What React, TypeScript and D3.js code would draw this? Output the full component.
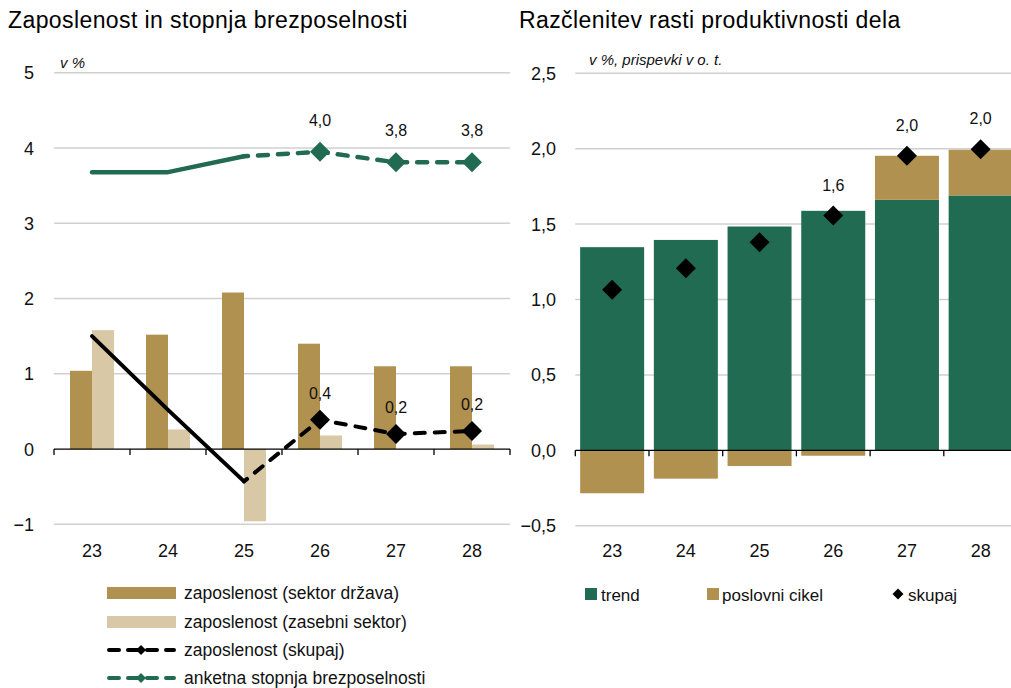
import React from "react";
import * as d3 from "d3";

const categories = ["23", "24", "25", "26", "27", "28"];
const empGov = [1.04, 1.52, 2.08, 1.4, 1.1, 1.1];
const empPriv = [1.58, 0.26, -0.96, 0.18, 0.0, 0.06];
const empTotal = [1.5, 0.52, -0.43, 0.39, 0.2, 0.24];
const empTotalLabels = ["", "", "", "0,4", "0,2", "0,2"];
const unemp = [3.68, 3.68, 3.89, 3.95, 3.81, 3.81];
const unempLabels = ["", "", "", "4,0", "3,8", "3,8"];
const leftTicks = [-1, 0, 1, 2, 3, 4, 5];

const trend = [1.347, 1.395, 1.484, 1.588, 1.661, 1.69];
const cycle = [-0.285, -0.188, -0.104, -0.036, 0.292, 0.303];
const prodTotal = [1.064, 1.208, 1.38, 1.557, 1.953, 1.997];
const prodLabels = ["", "", "", "1,6", "2,0", "2,0"];
const rightTicks = [-0.5, 0, 0.5, 1.0, 1.5, 2.0, 2.5];

const GOLD = "#b0914f";
const BEIGE = "#d8c8a5";
const GREEN = "#206b52";
const GRID = "#d0d0d0";
const FONT = "'Liberation Sans', Arial, sans-serif";

const fmt = (v: number) => d3.format(".1f")(v).replace(".", ",").replace("-", "\u2212");

function diamond(cx: number, cy: number, r: number) {
  return `M${cx},${cy - r}L${cx + r},${cy}L${cx},${cy + r}L${cx - r},${cy}Z`;
}

export default function App() {
  // left chart
  const xl = d3.scaleBand<string>().domain(categories).range([54, 510]).padding(0);
  const yl = d3.scaleLinear().domain([-1, 5]).range([524.3, 72.8]);
  const bw = 22;
  const cxL = (c: string) => (xl(c) as number) + xl.bandwidth() / 2;

  const solidIdx = [0, 1, 2];
  const dashIdx = [2, 3, 4, 5];
  const seg = (arr: number[], idx: number[]) =>
    d3
      .line<number>()
      .x((i) => cxL(categories[i]))
      .y((i) => yl(arr[i]))(idx) as string;

  // right chart
  const step = 73.7;
  const xr = d3
    .scaleBand<string>()
    .domain(categories)
    .range([575.3, 575.3 + step * categories.length])
    .padding(0);
  const yr = d3.scaleLinear().domain([-0.5, 2.5]).range([525.7, 73.3]);
  const rbw = 64;
  const cxR = (c: string) => (xr(c) as number) + xr.bandwidth() / 2;

  return (
    <svg
      width={1011}
      height={688}
      style={{ position: "absolute", left: 0, top: 0, background: "#fff" }}
      fontFamily={FONT}
    >
      <rect width={1011} height={688} fill="#fff" />
      {/* Titles */}
      <text x={8} y={28} fontSize={23} letterSpacing={0.4} fill="#000">
        Zaposlenost in stopnja brezposelnosti
      </text>
      <text x={519} y={28} fontSize={23} letterSpacing={0.4} fill="#000">
        Razčlenitev rasti produktivnosti dela
      </text>

      {/* LEFT CHART */}
      <g>
        {leftTicks
          .filter((t) => t !== 0)
          .map((t) => (
            <line key={t} x1={54} x2={510} y1={yl(t)} y2={yl(t)} stroke={GRID} strokeWidth={1.5} />
          ))}
        {leftTicks.map((t) => (
          <text key={t} x={34} y={yl(t)} dy="0.36em" textAnchor="end" fontSize={18} fill="#111">
            {fmt(t).replace(",0", "")}
          </text>
        ))}
        <text x={60} y={68} fontSize={15} fontStyle="italic" fill="#111">
          v %
        </text>
        {categories.map((c, i) => (
          <g key={c}>
            <rect
              x={cxL(c) - bw}
              width={bw}
              y={yl(Math.max(0, empGov[i]))}
              height={Math.abs(yl(empGov[i]) - yl(0))}
              fill={GOLD}
            />
            <rect
              x={cxL(c)}
              width={bw}
              y={yl(Math.max(0, empPriv[i]))}
              height={Math.abs(yl(empPriv[i]) - yl(0))}
              fill={BEIGE}
            />
          </g>
        ))}
        {/* axis */}
        <line x1={54} x2={510} y1={yl(0)} y2={yl(0)} stroke="#000" strokeWidth={1.3} />
        {[...categories.map((c) => xl(c) as number), 510].map((x, i) => (
          <line key={i} x1={x} x2={x} y1={yl(0)} y2={yl(0) + 6} stroke="#000" strokeWidth={1.3} />
        ))}
        {categories.map((c) => (
          <text key={c} x={cxL(c)} y={557} textAnchor="middle" fontSize={18} fill="#111">
            {c}
          </text>
        ))}
        {/* unemployment line */}
        <path d={seg(unemp, solidIdx)} fill="none" stroke={GREEN} strokeWidth={4.5} strokeLinecap="round" strokeLinejoin="round" />
        <path
          d={seg(unemp, dashIdx)}
          fill="none"
          stroke={GREEN}
          strokeWidth={4.5}
          strokeLinecap="round"
          strokeDasharray="10 10"
          strokeDashoffset={-14}
        />
        {categories.map((c, i) =>
          unempLabels[i] ? (
            <g key={c}>
              <path d={diamond(cxL(c), yl(unemp[i]), 10)} fill={GREEN} />
              <text x={cxL(c)} y={yl(unemp[i]) - 26} textAnchor="middle" fontSize={16} fill="#111">
                {unempLabels[i]}
              </text>
            </g>
          ) : null
        )}
        {/* employment total line */}
        <path d={seg(empTotal, solidIdx)} fill="none" stroke="#000" strokeWidth={4} strokeLinecap="round" strokeLinejoin="round" />
        <path
          d={seg(empTotal, dashIdx)}
          fill="none"
          stroke="#000"
          strokeWidth={4}
          strokeLinecap="round"
          strokeDasharray="10 10"
          strokeDashoffset={-14}
        />
        {categories.map((c, i) =>
          empTotalLabels[i] ? (
            <g key={c}>
              <path d={diamond(cxL(c), yl(empTotal[i]), 10)} fill="#000" />
              <text x={cxL(c)} y={yl(empTotal[i]) - 21} textAnchor="middle" fontSize={16} fill="#111">
                {empTotalLabels[i]}
              </text>
            </g>
          ) : null
        )}
        {/* legend */}
        <g fontSize={17.5} fill="#111">
          <rect x={107} y={587} width={69} height={12} fill={GOLD} />
          <text x={184} y={599}>zaposlenost (sektor država)</text>
          <rect x={107} y={616} width={69} height={12} fill={BEIGE} />
          <text x={184} y={628}>zaposlenost (zasebni sektor)</text>
          <line x1={109} x2={174} y1={650} y2={650} stroke="#000" strokeWidth={4} strokeLinecap="round" strokeDasharray="10 9" />
          <path d={diamond(141, 650, 5)} fill="#000" />
          <text x={184} y={656}>zaposlenost (skupaj)</text>
          <line x1={109} x2={174} y1={678} y2={678} stroke={GREEN} strokeWidth={4} strokeLinecap="round" strokeDasharray="10 9" />
          <path d={diamond(141, 678, 5)} fill={GREEN} />
          <text x={184} y={684}>anketna stopnja brezposelnosti</text>
        </g>
      </g>

      {/* RIGHT CHART */}
      <g>
        {rightTicks
          .filter((t) => t !== 0)
          .map((t) => (
            <line key={t} x1={575.3} x2={1011} y1={yr(t)} y2={yr(t)} stroke={GRID} strokeWidth={1.5} />
          ))}
        {rightTicks.map((t) => (
          <text key={t} x={556} y={yr(t)} dy="0.36em" textAnchor="end" fontSize={18} fill="#111">
            {fmt(t)}
          </text>
        ))}
        <text x={589} y={65} fontSize={15} fontStyle="italic" fill="#111">
          v %, prispevki v o. t.
        </text>
        {categories.map((c, i) => (
          <g key={c}>
            <rect
              x={cxR(c) - rbw / 2}
              width={rbw}
              y={yr(trend[i])}
              height={yr(0) - yr(trend[i])}
              fill={GREEN}
            />
            <rect
              x={cxR(c) - rbw / 2}
              width={rbw}
              y={cycle[i] >= 0 ? yr(trend[i] + cycle[i]) : yr(0)}
              height={Math.abs(yr(cycle[i]) - yr(0))}
              fill={GOLD}
            />
          </g>
        ))}
        <line x1={575.3} x2={1011} y1={yr(0)} y2={yr(0)} stroke="#000" strokeWidth={1.3} />
        {categories.map((c) => (
          <line
            key={c}
            x1={xr(c) as number}
            x2={xr(c) as number}
            y1={yr(0)}
            y2={yr(0) + 6}
            stroke="#000"
            strokeWidth={1.3}
          />
        ))}
        {categories.map((c) => (
          <text key={c} x={cxR(c)} y={557} textAnchor="middle" fontSize={18} fill="#111">
            {c}
          </text>
        ))}
        {categories.map((c, i) => (
          <g key={c}>
            <path d={diamond(cxR(c), yr(prodTotal[i]), 10)} fill="#000" />
            {prodLabels[i] ? (
              <text x={cxR(c)} y={yr(prodTotal[i]) - 25} textAnchor="middle" fontSize={16} fill="#111">
                {prodLabels[i]}
              </text>
            ) : null}
          </g>
        ))}
        {/* legend */}
        <g fontSize={17} fill="#111">
          <rect x={585} y={588} width={12} height={12} fill={GREEN} />
          <text x={601} y={601}>trend</text>
          <rect x={707} y={588} width={12} height={12} fill={GOLD} />
          <text x={722} y={601}>poslovni cikel</text>
          <path d={diamond(898, 594, 5.5)} fill="#000" />
          <text x={908} y={601}>skupaj</text>
        </g>
      </g>
    </svg>
  );
}
